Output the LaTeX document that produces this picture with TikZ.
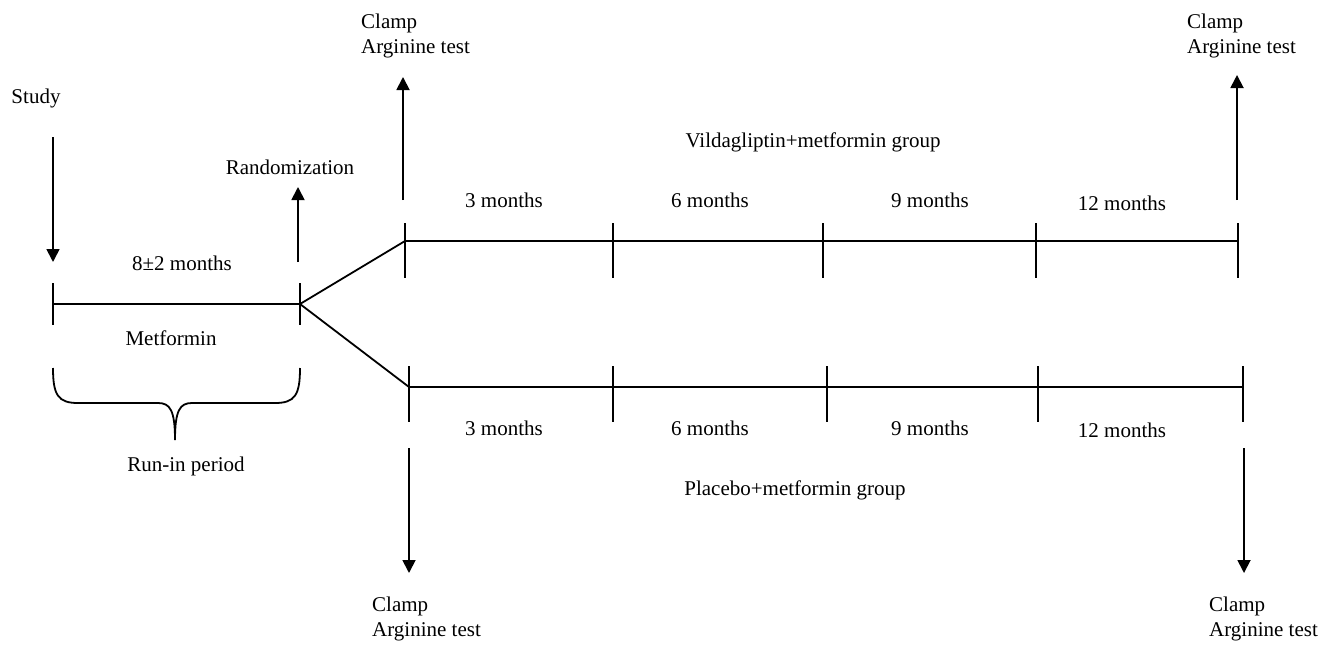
\documentclass[tikz,border=0pt]{standalone}
\usepackage{fontspec}
\setmainfont{Liberation Serif}
\usetikzlibrary{arrows.meta}

\begin{document}
\begin{tikzpicture}[
		x=1pt, y=-1pt,
		>={Triangle[width=13pt, length=13pt]},
		line/.style={line width=1.8pt},
		arr/.style={line width=1.8pt, ->},
		label/.style={font=\fontsize{21}{25}\selectfont, inner sep=0pt},
		test/.style={label, align=left, anchor=north west},
	]
	\useasboundingbox (0,0) rectangle (1332,645);
	\coordinate (r0) at (53,304);
	\coordinate (r1) at (300,304);
	\coordinate (v0) at (405,241);
	\coordinate (v1) at (613,241);
	\coordinate (v2) at (823,241);
	\coordinate (v3) at (1036,241);
	\coordinate (v4) at (1238,241);
	\coordinate (p0) at (409,387);
	\coordinate (p1) at (613,387);
	\coordinate (p2) at (827,387);
	\coordinate (p3) at (1038,387);
	\coordinate (p4) at (1243,387);
	\draw[line] (r0) -- (r1);
	\draw[line] (r1) -- (v0);
	\draw[line] (r1) -- (p0);
	\draw[line] (v0) -- (v4);
	\draw[line] (p0) -- (p4);
	\foreach \t in {r0,r1}
		\draw[line] (\t) ++(0,-21) -- ++(0,42);
	\foreach \t in {v0,v1,v2,v3,v4}
		\draw[line] (\t) ++(0,-18) -- ++(0,55);
	\foreach \t in {p0,p1,p2,p3,p4}
		\draw[line] (\t) ++(0,-21) -- ++(0,56);
	\coordinate (studyfrom) at (53,137);
	\coordinate (studyto) at (53,262);
	\coordinate (randfrom) at (298,262);
	\coordinate (randto) at (298,187);
	\coordinate (vfrom) at (403,200);
	\coordinate (vto) at (403,77);
	\coordinate (vendfrom) at (1237,200);
	\coordinate (vendto) at (1237,75);
	\coordinate (pfrom) at (409,448);
	\coordinate (pto) at (409,573);
	\coordinate (pendfrom) at (1244,448);
	\coordinate (pendto) at (1244,573);
	\draw[arr] (studyfrom) -- (studyto);
	\draw[arr] (randfrom) -- (randto);
	\draw[arr] (vfrom) -- (vto);
	\draw[arr] (vendfrom) -- (vendto);
	\draw[arr] (pfrom) -- (pto);
	\draw[arr] (pendfrom) -- (pendto);
	\draw[line] (53,368) .. controls (53,395) and (58,403) .. (78,403)
		-- (158,403) .. controls (170,403) and (175,410) .. (175,440)
		.. controls (175,410) and (180,403) .. (192,403)
		-- (275,403) .. controls (295,403) and (300,395) .. (300,368);
	\node[label] (study) at (36,98) {Study};
	\node[label] (rand) at (290,167) {Randomization};
	\node[label] (runtime) at (182,263) {8±2 months};
	\node[label] (metformin) at (171,338) {Metformin};
	\node[label] (runin) at (186,466) {Run-in period};
	\node[label] (vgroup) at (813,142) {Vildagliptin+metformin group};
	\node[label] (pgroup) at (795,490) {Placebo+metformin group};
	\node[label] (v3m) at (504,200) {3 months};
	\node[label] (v6m) at (710,200) {6 months};
	\node[label] (v9m) at (930,200) {9 months};
	\node[label] (v12m) at (1122,203) {12 months};
	\node[label] (p3m) at (504,428) {3 months};
	\node[label] (p6m) at (710,428) {6 months};
	\node[label] (p9m) at (930,428) {9 months};
	\node[label] (p12m) at (1122,430) {12 months};
	\node[test] (vstart) at (361,14) {Clamp\\Arginine test};
	\node[test] (vend) at (1187,14) {Clamp\\Arginine test};
	\node[test] (pstart) at (372,597) {Clamp\\Arginine test};
	\node[test] (pend) at (1209,597) {Clamp\\Arginine test};
\end{tikzpicture}
\end{document}
